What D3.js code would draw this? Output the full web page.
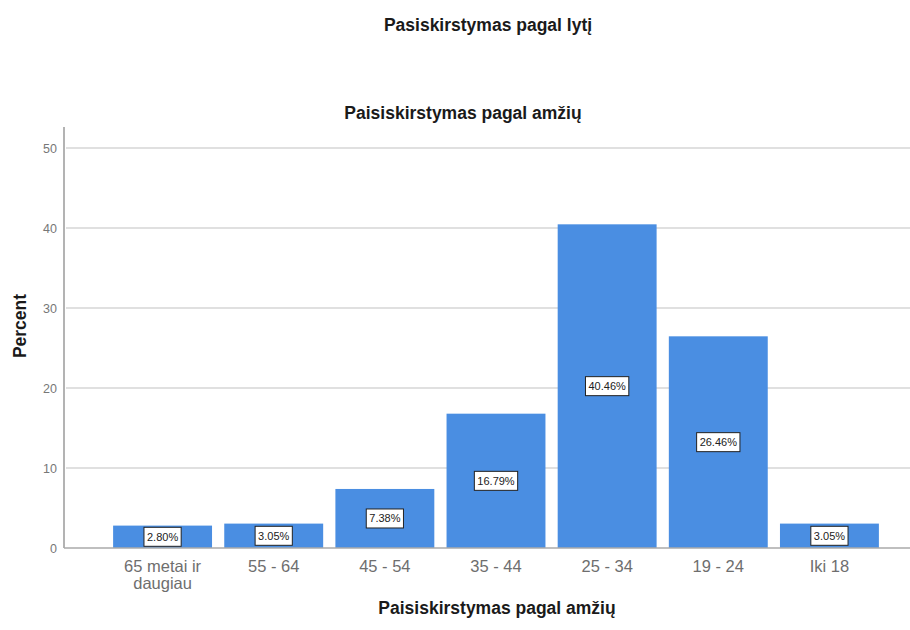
<!DOCTYPE html>
<html>
<head>
<meta charset="utf-8">
<script src="https://cdn.jsdelivr.net/npm/d3@7"></script>
<style>
  body { margin: 0; background: #fff; }
  svg { font-family: Arial, "Liberation Sans", sans-serif; }
  .title { font-weight: bold; font-size: 17.5px; fill: #1a1a1a; }
  .tick-y { font-size: 12.5px; fill: #777; }
  .tick-x { font-size: 16.5px; fill: #6e6e6e; }
  .bar-label { font-size: 11px; fill: #222; }
</style>
</head>
<body>
<div id="chart"></div>
<script>
const categories = ['65 metai ir daugiau', '55 - 64', '45 - 54', '35 - 44', '25 - 34', '19 - 24', 'Iki 18'];
const tickLines = [['65 metai ir', 'daugiau'], ['55 - 64'], ['45 - 54'], ['35 - 44'], ['25 - 34'], ['19 - 24'], ['Iki 18']];
const percents = [2.80, 3.05, 7.38, 16.79, 40.46, 26.46, 3.05];
const yTicks = [0, 10, 20, 30, 40, 50];

const width = 910, height = 630;
const svg = d3.select('#chart').append('svg')
  .attr('width', width)
  .attr('height', height);

const y = d3.scaleLinear().domain([0, 50]).range([548, 148]);
const x = d3.scaleBand()
  .domain(categories)
  .range([107, 885])
  .paddingInner(0.11)
  .paddingOuter(0.055);

// heading of the chart above (cut off)
svg.append('text')
  .attr('class', 'title')
  .attr('x', 488).attr('y', 31)
  .attr('text-anchor', 'middle')
  .text('Pasiskirstymas pagal lytį');

svg.append('text')
  .attr('class', 'title')
  .attr('x', 463).attr('y', 119)
  .attr('text-anchor', 'middle')
  .text('Paisiskirstymas pagal amžių');

// grid
svg.selectAll('.grid')
  .data(yTicks.filter(d => d > 0))
  .enter().append('line')
  .attr('x1', 66).attr('x2', width)
  .attr('y1', d => y(d)).attr('y2', d => y(d))
  .attr('stroke', '#e0e0e0')
  .attr('stroke-width', 2);

// y axis
svg.append('line')
  .attr('x1', 64).attr('x2', 64)
  .attr('y1', 127).attr('y2', y(0))
  .attr('stroke', '#9a9a9a')
  .attr('stroke-width', 1.5);

svg.selectAll('.tick-y')
  .data(yTicks)
  .enter().append('text')
  .attr('class', 'tick-y')
  .attr('x', 57)
  .attr('y', d => y(d) + 4.5)
  .attr('text-anchor', 'end')
  .text(d => d);

svg.append('text')
  .attr('class', 'title')
  .attr('transform', 'translate(26, 326) rotate(-90)')
  .attr('text-anchor', 'middle')
  .text('Percent');

// bars
svg.selectAll('.bar')
  .data(percents)
  .enter().append('rect')
  .attr('x', (d, i) => x(categories[i]))
  .attr('y', d => y(d))
  .attr('width', x.bandwidth())
  .attr('height', d => y(0) - y(d))
  .attr('fill', '#4a8ee2');

// x baseline
svg.append('line')
  .attr('x1', 64).attr('x2', width)
  .attr('y1', y(0)).attr('y2', y(0))
  .attr('stroke', '#aaa')
  .attr('stroke-width', 1.5);

// value labels
const labels = svg.selectAll('.lbl')
  .data(percents)
  .enter().append('g')
  .attr('transform', (d, i) => {
    const cy = Math.min((y(d) + y(0)) / 2, y(0) - 10);
    return `translate(${x(categories[i]) + x.bandwidth() / 2}, ${cy})`;
  });

labels.append('text')
  .attr('class', 'bar-label')
  .attr('y', 4)
  .attr('text-anchor', 'middle')
  .text(d => d.toFixed(2) + '%');

labels.insert('rect', 'text')
  .each(function () {
    const w = this.parentNode.querySelector('text').getComputedTextLength() + 6;
    d3.select(this)
      .attr('x', -w / 2).attr('y', -9.5)
      .attr('width', w).attr('height', 19);
  })
  .attr('fill', '#fff')
  .attr('stroke', '#222')
  .attr('stroke-width', 1);

// x tick labels
const xt = svg.selectAll('.tick-x')
  .data(tickLines)
  .enter().append('text')
  .attr('class', 'tick-x')
  .attr('text-anchor', 'middle')
  .attr('x', (d, i) => x(categories[i]) + x.bandwidth() / 2)
  .attr('y', 572);

xt.selectAll('tspan')
  .data(d => d)
  .enter().append('tspan')
  .attr('x', function () { return this.parentNode.getAttribute('x'); })
  .attr('dy', (d, i) => i === 0 ? 0 : 17)
  .text(d => d);

svg.append('text')
  .attr('class', 'title')
  .attr('x', 497).attr('y', 614)
  .attr('text-anchor', 'middle')
  .text('Paisiskirstymas pagal amžių');
</script>
</body>
</html>
